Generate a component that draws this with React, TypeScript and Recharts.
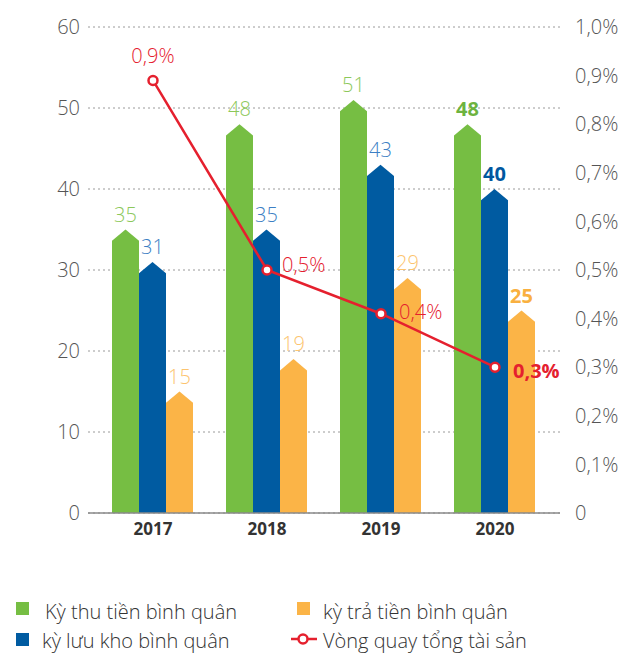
import React from 'react';
import { ComposedChart, Bar, Line, XAxis, YAxis, CartesianGrid, LabelList } from 'recharts';

const years = ['2017', '2018', '2019', '2020'];
const kyThuTien = [35, 48, 51, 48];
const kyLuuKho = [31, 35, 43, 40];
const kyTraTien = [15, 19, 29, 25];
const vongQuay = [0.89, 0.5, 0.41, 0.3];
const leftTicks = [0, 10, 20, 30, 40, 50, 60];
const rightTicks = [0, 0.1, 0.2, 0.3, 0.4, 0.5, 0.6, 0.7, 0.8, 0.9, 1.0];

const legendLabels = ['Kỳ thu tiền bình quân', 'kỳ lưu kho bình quân', 'kỳ trả tiền bình quân', 'Vòng quay tổng tài sản'];

const data = years.map((y, i) => ({
  year: y,
  thu: kyThuTien[i],
  kho: kyLuuKho[i],
  tra: kyTraTien[i],
  vq: vongQuay[i],
}));

const FONT = "'Open Sans', 'Noto Sans', 'DejaVu Sans', sans-serif";
const GREEN = '#76BE43';
const BLUE = '#005BA1';
const ORANGE = '#FBB447';
const RED = '#E5202E';

const fmtPct = (v: number) => (v === 0 ? '0' : v.toFixed(1).replace('.', ',') + '%');

const Arrow = (props: any) => {
  const { x, y, width, height, fill } = props;
  if (!height || height <= 0) return null;
  const tip = Math.min(width * 0.42, height);
  const d = `M${x},${y + height} L${x},${y + tip} L${x + width / 2},${y} L${x + width},${y + tip} L${x + width},${y + height} Z`;
  return <path d={d} fill={fill} />;
};

const makeBarLabel = (light: string, dark: string) => (props: any) => {
  const { x, y, width, value, index } = props;
  const bold = index === 3;
  return (
    <text
      x={Number(x) + Number(width) / 2}
      y={Number(y) - 8}
      textAnchor="middle"
      fill={bold ? dark : light}
      fontSize={20}
      fontWeight={bold ? 700 : 300}
      fontFamily={FONT}
    >
      {value}
    </text>
  );
};

const lineLabel = (props: any) => {
  const { x, y, value, index } = props;
  const txt = fmtPct(Number(value));
  if (index === 0) {
    return (
      <text x={Number(x)} y={Number(y) - 17} textAnchor="middle" fill={RED} fontSize={20} fontWeight={300} fontFamily={FONT}>
        {txt}
      </text>
    );
  }
  const bold = index === 3;
  return (
    <text
      x={Number(x) + (index === 1 ? 15 : 18)}
      y={Number(y) + (index === 1 ? -6 : index === 2 ? -2 : 3)}
      dominantBaseline="central"
      fill={RED}
      fontSize={20}
      fontWeight={bold ? 700 : 300}
      fontFamily={FONT}
    >
      {txt}
    </text>
  );
};

const Square = ({ color }: { color: string }) => (
  <span style={{ display: 'inline-block', width: 13, height: 13, background: color }} />
);

const LineMarker = () => (
  <svg width={26} height={14} style={{ display: 'inline-block' }}>
    <line x1={0} y1={7} x2={26} y2={7} stroke={RED} strokeWidth={2.5} />
    <circle cx={12} cy={7} r={4.5} fill="#fff" stroke={RED} strokeWidth={2.5} />
  </svg>
);

const legendText: React.CSSProperties = {
  position: 'absolute',
  fontFamily: FONT,
  fontWeight: 300,
  fontSize: 20,
  color: '#333',
  whiteSpace: 'nowrap',
  lineHeight: '24px',
};

export default function App() {
  return (
    <div style={{ position: 'absolute', left: 0, top: 0, width: 625, height: 654, background: '#fff', overflow: 'hidden' }}>
      <ComposedChart
        width={625}
        height={654}
        data={data}
        margin={{ top: 27, right: 0, left: 0, bottom: 101 }}
        barCategoryGap={16}
        barGap={0}
      >
        <CartesianGrid yAxisId="left" vertical={false} stroke="#9a9a9a" strokeDasharray="2 3" />
        <XAxis
          dataKey="year"
          height={40}
          padding={{ left: 8, right: 8 }}
          tickLine={false}
          axisLine={{ stroke: '#8a8a8a', strokeWidth: 1.5 }}
          tickMargin={4}
          tick={{ fill: '#333', fontSize: 17, fontWeight: 700, fontFamily: FONT }}
        />
        <YAxis
          yAxisId="left"
          width={88}
          domain={[0, 60]}
          ticks={leftTicks}
          interval={0}
          tickLine={false}
          axisLine={false}
          tick={{ fill: '#555', fontSize: 20, fontWeight: 300, fontFamily: FONT }}
        />
        <YAxis
          yAxisId="right"
          orientation="right"
          width={65}
          domain={[0, 1]}
          ticks={rightTicks}
          interval={0}
          tickLine={false}
          axisLine={false}
          tickMargin={9}
          tickFormatter={fmtPct}
          tick={{ fill: '#555', fontSize: 20, fontWeight: 300, fontFamily: FONT, textAnchor: 'start' }}
        />
        <Bar yAxisId="left" dataKey="thu" fill={GREEN} shape={Arrow} isAnimationActive={false}>
          <LabelList dataKey="thu" content={makeBarLabel('#8CC85A', '#6DB33F')} />
        </Bar>
        <Bar yAxisId="left" dataKey="kho" fill={BLUE} shape={Arrow} isAnimationActive={false}>
          <LabelList dataKey="kho" content={makeBarLabel('#3D7FC4', '#0057A0')} />
        </Bar>
        <Bar yAxisId="left" dataKey="tra" fill={ORANGE} shape={Arrow} isAnimationActive={false}>
          <LabelList dataKey="tra" content={makeBarLabel('#FCC46E', '#F9B040')} />
        </Bar>
        <Line
          yAxisId="right"
          dataKey="vq"
          stroke={RED}
          strokeWidth={2.5}
          dot={{ r: 4.5, fill: '#fff', stroke: RED, strokeWidth: 2.5 }}
          isAnimationActive={false}
        >
          <LabelList dataKey="vq" content={lineLabel} />
        </Line>
      </ComposedChart>

      <div style={{ position: 'absolute', left: 16, top: 601 }}><Square color={GREEN} /></div>
      <div style={{ ...legendText, left: 45, top: 600 }}>{legendLabels[0]}</div>
      <div style={{ position: 'absolute', left: 16, top: 632 }}><Square color={BLUE} /></div>
      <div style={{ ...legendText, left: 42, top: 629 }}>{legendLabels[1]}</div>
      <div style={{ position: 'absolute', left: 297, top: 601 }}><Square color={ORANGE} /></div>
      <div style={{ ...legendText, left: 323, top: 600 }}>{legendLabels[2]}</div>
      <div style={{ position: 'absolute', left: 291, top: 632 }}><LineMarker /></div>
      <div style={{ ...legendText, left: 323, top: 629 }}>{legendLabels[3]}</div>
    </div>
  );
}
